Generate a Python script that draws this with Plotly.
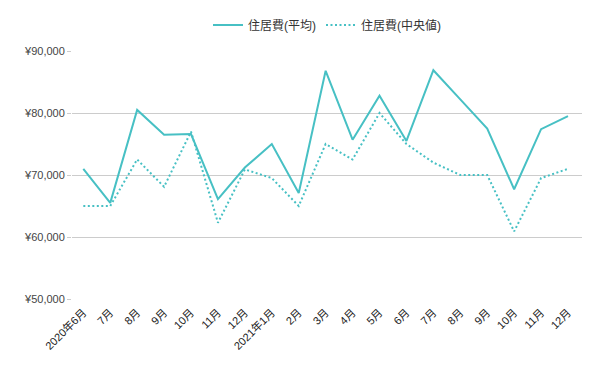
import plotly.graph_objects as go

months = ["2020年6月", "7月", "8月", "9月", "10月", "11月", "12月", "2021年1月", "2月", "3月",
          "4月", "5月", "6月", "7月", "8月", "9月", "10月", "11月", "12月"]
avg_rent = [71000, 65500, 80500, 76500, 76600, 66100, 71200, 75000, 67100, 86800,
            75700, 82800, 75500, 86900, 82200, 77500, 67700, 77400, 79500]
median_rent = [65000, 65000, 72500, 68100, 77000, 62300, 70900, 69500, 65000, 75000,
               72500, 80000, 75000, 72000, 70000, 70000, 60900, 69500, 71000]
y_ticks = [50000, 60000, 70000, 80000, 90000]
y_tick_labels = ["¥50,000", "¥60,000", "¥70,000", "¥80,000", "¥90,000"]

color = "#47C0C4"
font_family = "Liberation Sans, Arial, Noto Sans CJK JP, sans-serif"

x_idx = list(range(len(months)))

fig = go.Figure()
fig.add_trace(go.Scatter(x=x_idx, y=avg_rent, mode="lines", name="住居費(平均)",
                         line=dict(color=color, width=2)))
fig.add_trace(go.Scatter(x=x_idx, y=median_rent, mode="lines", name="住居費(中央値)",
                         line=dict(color=color, width=2, dash="2px,2.5px")))

fig.update_layout(
    width=600, height=371,
    margin=dict(l=72, r=18, t=51, b=72, autoexpand=False),
    paper_bgcolor="white", plot_bgcolor="white",
    font=dict(family=font_family, size=11, color="#444"),
    showlegend=True,
    legend=dict(orientation="h", x=0.5, xanchor="center", y=1.105, yanchor="middle",
                font=dict(size=12, color="#333"), itemwidth=30),
    xaxis=dict(range=[-0.42, 18.52], tickvals=x_idx, ticktext=months,
               showgrid=False, zeroline=False, showline=False, ticks="", tickangle=-45,
               ticklabelstandoff=4,
               tickfont=dict(size=11, color="#222")),
    yaxis=dict(range=[50000, 90000], tickvals=y_ticks, ticktext=y_tick_labels,
               showgrid=True, gridcolor="#cccccc", gridwidth=1, zeroline=False,
               showline=False, ticks="outside", ticklen=4, tickcolor="#cccccc",
               tickfont=dict(size=11, color="#444")),
)

fig.write_html("out.html", config={"displayModeBar": False},
               post_script="document.body.style.margin='0';")
